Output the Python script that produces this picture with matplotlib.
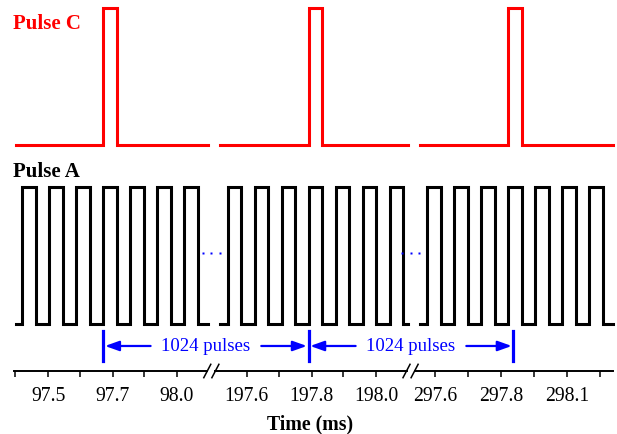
import numpy as np
import matplotlib
matplotlib.use("Agg")
import matplotlib.pyplot as plt

plt.rcParams['font.family'] = ['Liberation Serif', 'DejaVu Serif']

# pulse A: one pulse per period, 50 % duty; Pulse C fires every 1024 pulses
pulses_per_c = 1024
duty = 0.5

# shown windows around each Pulse C edge (in pulse A periods)
seg_c_index = [0, 1024, 2048]
seg_lo = [-3.25, -3.28, -3.27]
seg_hi = [3.87, 3.70, 3.87]

# time axis ticks per window, in periods from the Pulse C edge
seg_ticks = [[-3.27, -2.04, -0.86, 0.35, 1.51, 2.72],
             [-2.29, -1.08, 0.12, 1.28, 2.50],
             [-2.72, -1.50, -0.27, 0.95, 2.17, 3.39]]
seg_tick_labels = [["", "97.5", "", "97.7", "", "98.0"],
                   ["197.6", "", "197.8", "", "198.0"],
                   ["297.6", "", "297.8", "", "298.1", ""]]

arrow_label = "1024 pulses"

# layout on the compressed axis
seg_shift = [0.0, 7.6, 15.0]
mark_x = [0.0, 7.6, 15.19]
break_x = [4.0, 11.38]
c_base = 1.31


def square_wave(lo, hi, edges, width):
    xs, ys = [lo], [0]
    for e in edges:
        xs += [e, e, e + width, e + width]
        ys += [0, 1, 1, 0]
    xs.append(hi)
    ys.append(0)
    return np.array(xs, dtype=float), np.array(ys, dtype=float)


fig = plt.figure(figsize=(6.17, 4.35), dpi=100)
ax = fig.add_axes([14 / 617, 1 - 372 / 435, 599.3 / 617, 372 / 435])

ticks, labels = [], []
for k in range(3):
    c = seg_c_index[k]
    edges = np.arange(c + np.ceil(seg_lo[k]), c + np.floor(seg_hi[k]) + 1)
    c_edges = edges[edges % pulses_per_c == 0]
    off = seg_shift[k] - c

    xa, ya = square_wave(c + seg_lo[k], c + seg_hi[k], edges, duty)
    ax.plot(xa + off, ya, color='k', lw=2.2, solid_joinstyle='miter', clip_on=False)

    xc, yc = square_wave(c + seg_lo[k], c + seg_hi[k], c_edges, duty)
    ax.plot(xc + off, yc + c_base, color='red', lw=2.2, solid_joinstyle='miter', clip_on=False)

    ticks += [t + seg_shift[k] for t in seg_ticks[k]]
    labels += seg_tick_labels[k]

# dots in the gaps
for b in break_x:
    ax.plot([b - 0.31, b, b + 0.31], [0.52] * 3, 's', color='blue', ms=2.1, mec='none')

# "1024 pulses" markers and arrows
for m in mark_x:
    ax.plot([m, m], [-0.049, -0.273], color='blue', lw=2.3, clip_on=False)
for m0, m1 in zip(mark_x[:-1], mark_x[1:]):
    mid = (m0 + m1) / 2
    ax.text(mid, -0.161, arrow_label, color='blue', fontsize=13.5,
            ha='center', va='center')
    for tail, head in [(mid - 2.05, m0), (mid + 2.05, m1)]:
        ax.annotate("", xy=(head, -0.161), xytext=(tail, -0.161),
                    arrowprops=dict(arrowstyle="-|>,head_length=0.7,head_width=0.25",
                                    color='blue', lw=1.6, mutation_scale=12,
                                    shrinkA=0, shrinkB=1.2))

ax.set_xlim(-3.31, 18.89)
ax.set_ylim(-0.344, 2.377)

for s in ax.spines.values():
    s.set_visible(False)
ax.set_yticks([])
ax.set_xticks(ticks)
ax.set_xticklabels(labels, fontsize=14.2)
ax.tick_params(axis='x', direction='out', length=4.2, width=1.1, pad=6.5)

# axis line with break marks
tr = ax.get_xaxis_transform()
xl = ax.get_xlim()
pieces = [xl[0], break_x[0] - 0.15, break_x[0] + 0.15,
          break_x[1] - 0.15, break_x[1] + 0.15, xl[1]]
for a, b in zip(pieces[0::2], pieces[1::2]):
    ax.plot([a, b], [0, 0], color='k', lw=1.4, transform=tr, clip_on=False)
for b in break_x:
    for xc in (b - 0.15, b + 0.15):
        ax.plot([xc - 0.13, xc + 0.13], [-0.018, 0.018], color='k', lw=1.1,
                transform=tr, clip_on=False)

fig.text(13 / 617, 1 - 29.3 / 435, "Pulse C", color='red', fontsize=15,
         fontweight='bold', va='baseline')
fig.text(13 / 617, 1 - 176.7 / 435, "Pulse A", color='k', fontsize=15,
         fontweight='bold', va='baseline')
fig.text(310 / 617, 0.013, "Time (ms)", fontsize=14.3, fontweight='bold',
         ha='center', va='baseline')

fig.savefig("out.png", dpi=100)
